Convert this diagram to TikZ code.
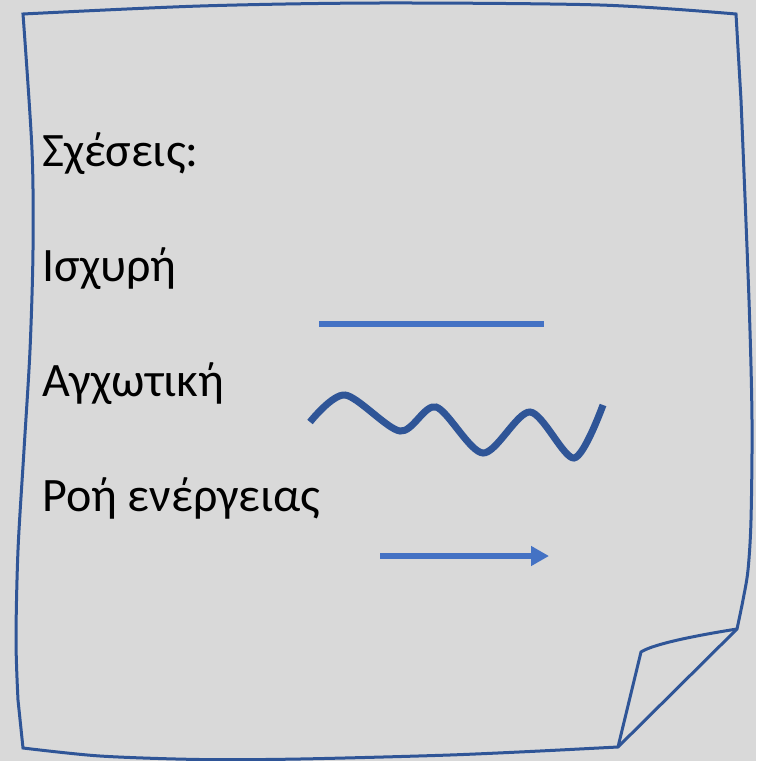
\documentclass[tikz,border=0pt]{standalone}
\usepackage{fontspec}
\setmainfont{Carlito}
\usetikzlibrary{arrows.meta}
\definecolor{bggray}{HTML}{D9D9D9}
\definecolor{noteblue}{HTML}{2F5597}
\definecolor{lineblue}{HTML}{4472C4}
\begin{document}
\begin{tikzpicture}[x=1pt,y=-1pt,
  txt/.style={anchor=base west, inner sep=0pt, text=black, font=\fontsize{48}{56}\selectfont},
  outline/.style={draw=noteblue, line width=3pt, line join=miter}]
\fill[bggray] (0,0) rectangle (756,761);
\useasboundingbox (0,0) rectangle (756,761);
% note outline
\draw[outline] plot[smooth] coordinates {(23,14) (200,6) (378,3) (600,5) (736,14)}
  -- plot[smooth] coordinates {(741,100) (749,300) (752,420) (751,520) (748,570) (743,600) (737,629)}
  -- (618,747)
  -- plot[smooth] coordinates {(560,750) (450,755) (300,759) (200,759.5) (100,756) (23,748)}
  -- plot[smooth] coordinates {(18,700) (16,640) (18,550) (24,450) (30,350) (33,250) (32,150) (23,14)}
  -- cycle;
% curled corner
\coordinate (c1) at (618,747);
\coordinate (c2) at (641,652);
\coordinate (c3) at (737,629);
\draw[outline] (c1) -- (c2) .. controls (650,646) and (680,638) .. (c3);
% texts
\node[txt] (t1) at (42,166) {Σχέσεις:};
\node[txt] (t2) at (42,281) {Ισχυρή};
\node[txt] (t3) at (42,396) {Αγχωτική};
\node[txt] (t4) at (42,511) {Ροή ενέργειας};
% strong relation
\coordinate (s1) at (319,324);
\coordinate (s2) at (544,324);
\draw[lineblue, line width=5.5pt] (s1) -- (s2);
% stressful relation
\draw[noteblue, line width=7pt] plot[smooth] coordinates {(310,422) (345,395) (400,431) (436,407) (483,453) (530,412) (574,458) (603,405)};
% energy flow
\coordinate (a1) at (380,556);
\coordinate (a2) at (549,556);
\draw[lineblue, line width=6pt, -{Triangle[length=18pt,width=19pt]}] (a1) -- (a2);
\end{tikzpicture}
\end{document}
